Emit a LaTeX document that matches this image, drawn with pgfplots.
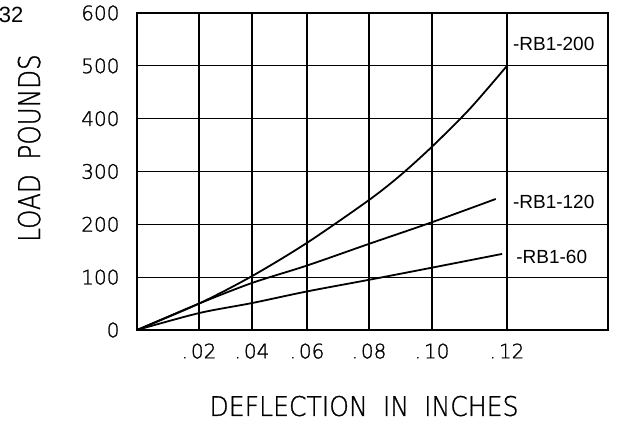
\documentclass[border=0pt]{standalone}
\usepackage{fontspec}
\usepackage{graphicx}
\usepackage{pgfplots}
\pgfplotsset{compat=1.18}
\setmainfont{Liberation Sans}
\newfontfamily\cadfont{DejaVu Sans ExtraLight}[BoldFont={DejaVu Sans ExtraLight}, BoldFeatures={FakeBold=1.2}]

\begin{document}
\begin{tikzpicture}
\path[use as bounding box] (-137pt,-95pt) rectangle (487pt,330pt);
\begin{axis}[
  scale only axis,
  width=471pt, height=317pt,
  clip=false,
  % the drafted grid is not evenly spaced: map each .02 step to its own width
  x coord trafo/.code={\pgfmathparse{3100*min(#1,0.02)+2650*max(0,min(#1,0.04)-0.02)+2750*max(0,min(#1,0.06)-0.04)+3100*max(0,min(#1,0.08)-0.06)+3150*max(0,min(#1,0.10)-0.08)+3750*max(0,min(#1,0.12)-0.10)+5050*max(0,#1-0.12)}},
  xmin=0, xmax=0.14,
  ymin=0, ymax=600,
  xtick={0.02,0.04,0.06,0.08,0.10,0.12},
  xticklabels={.\kern3pt02,.\kern3pt04,.\kern3pt06,.\kern3pt08,.\kern3pt10,\raisebox{4pt}{.\kern3pt12}},
  ytick={0,100,200,300,400,500,600},
  yticklabels={0,100,200,300,400,500,600},
  major tick length=0pt,
  grid=major,
  major grid style={black, line width=1.1pt},
  axis line style={black, line width=1.3pt},
  ticklabel style={font=\cadfont\bfseries\fontsize{20}{20}\selectfont},
  xticklabel style={yshift=-10pt},
  yticklabel style={xshift=-14pt},
  xlabel={\scalebox{0.93}[1]{DEFLECTION\hspace{0.6em}IN\hspace{0.6em}INCHES}},
  xlabel style={font=\cadfont\bfseries\fontsize{27}{27}\selectfont, at={(rel axis cs:0.482,-0.24)}, anchor=center},
  ylabel={\scalebox{0.82}[1]{LOAD\hspace{0.6em}POUNDS}},
  ylabel style={font=\cadfont\bfseries\fontsize{30}{30}\selectfont, at={(rel axis cs:-0.229,0.574)}, anchor=center},
]
% RB1-200
\addplot[black, line width=1.8pt, smooth] coordinates {
  (0,0)(0.02,50)(0.04,102)(0.06,165)(0.08,246)(0.09,293)(0.10,347)(0.11,418)(0.12,500)
};
% RB1-120
\addplot[black, line width=1.8pt, smooth] coordinates {
  (0,0)(0.02,50)(0.04,89)(0.06,122)(0.08,163)(0.10,204)(0.117,248)
};
% RB1-60
\addplot[black, line width=1.8pt, smooth] coordinates {
  (0,0)(0.02,32)(0.04,51)(0.06,73)(0.08,95)(0.10,118)(0.1187,144)
};
\node[anchor=west, inner sep=0pt, font=\fontsize{19}{19}\selectfont] at (rel axis cs:0.798,0.902) {-RB1-200};
\node[anchor=west, inner sep=0pt, font=\fontsize{19}{19}\selectfont] at (rel axis cs:0.798,0.404) {-RB1-120};
\node[anchor=west, inner sep=0pt, font=\fontsize{19}{19}\selectfont] at (rel axis cs:0.805,0.230) {-RB1-60};
\node[anchor=center, inner sep=0pt, font=\fontsize{22}{22}\selectfont] at (rel axis cs:-0.2675,0.995) {32};
\end{axis}
\end{tikzpicture}
\end{document}
